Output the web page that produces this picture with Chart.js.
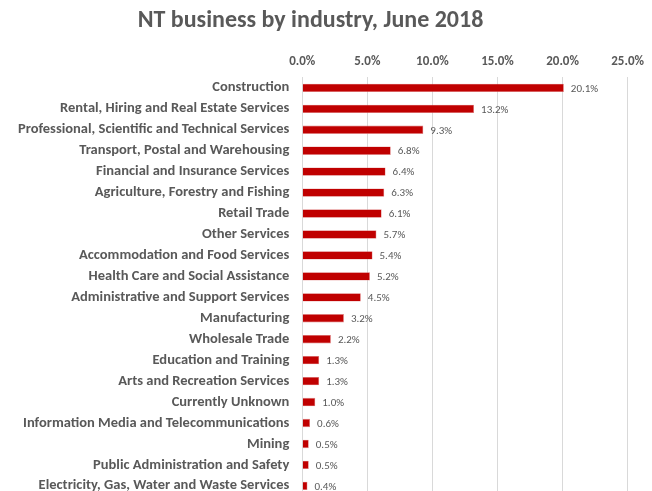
<!DOCTYPE html>
<html lang="en">
<head>
    <meta charset="UTF-8">
    <title>NT business by industry, June 2018</title>
    <script src="https://cdn.jsdelivr.net/npm/chart.js"></script>
    <style>
        body {
            margin: 0;
            padding: 0;
            background: #fff;
            overflow: hidden;
        }
        .chart-container {
            width: 652px;
            height: 510px;
            position: relative;
        }
    </style>
</head>
<body>
    <div class="chart-container">
        <canvas id="industryChart"></canvas>
    </div>

    <script>
        // Industries and share of businesses (%)
        const industries = [
            'Construction',
            'Rental, Hiring and Real Estate Services',
            'Professional, Scientific and Technical Services',
            'Transport, Postal and Warehousing',
            'Financial and Insurance Services',
            'Agriculture, Forestry and Fishing',
            'Retail Trade',
            'Other Services',
            'Accommodation and Food Services',
            'Health Care and Social Assistance',
            'Administrative and Support Services',
            'Manufacturing',
            'Wholesale Trade',
            'Education and Training',
            'Arts and Recreation Services',
            'Currently Unknown',
            'Information Media and Telecommunications',
            'Mining',
            'Public Administration and Safety',
            'Electricity, Gas, Water and Waste Services'
        ];
        const shares = [20.1, 13.2, 9.3, 6.8, 6.4, 6.3, 6.1, 5.7, 5.4, 5.2, 4.5, 3.2, 2.2, 1.3, 1.3, 1.0, 0.6, 0.5, 0.5, 0.4];

        const fontFamily = "Calibri, Carlito, Lato, 'Open Sans', sans-serif";
        const textColor = '#595959';

        // Value labels at bar ends
        const barLabels = {
            id: 'barLabels',
            afterDatasetsDraw(chart) {
                const ctx = chart.ctx;
                const meta = chart.getDatasetMeta(0);
                ctx.save();
                ctx.font = '11px ' + fontFamily;
                ctx.fillStyle = textColor;
                ctx.textAlign = 'left';
                ctx.textBaseline = 'middle';
                meta.data.forEach((bar, i) => {
                    ctx.fillText(shares[i].toFixed(1) + '%', bar.x + 7, bar.y + 1);
                });
                ctx.restore();
            }
        };

        // title sits a bit left of centre in the original
        const shiftTitle = {
            id: 'shiftTitle',
            afterLayout(chart) {
                if (chart.titleBlock) {
                    chart.titleBlock.left -= 34;
                }
            }
        };

        new Chart(document.getElementById('industryChart'), {
            type: 'bar',
            data: {
                labels: industries,
                datasets: [{
                    data: shares,
                    backgroundColor: '#C00000',
                    borderColor: '#E08080',
                    borderWidth: 0.6,
                    barPercentage: 0.4,
                    categoryPercentage: 1.0
                }]
            },
            options: {
                indexAxis: 'y',
                responsive: true,
                maintainAspectRatio: false,
                animation: false,
                layout: { padding: { left: 13, right: 10, top: 3, bottom: 0 } },
                plugins: {
                    legend: { display: false },
                    tooltip: { enabled: false },
                    title: {
                        display: true,
                        text: 'NT business by industry, June 2018',
                        color: textColor,
                        font: { family: fontFamily, size: 24, weight: 'bold' },
                        padding: { top: 4, bottom: 10 }
                    }
                },
                scales: {
                    x: {
                        position: 'top',
                        min: 0,
                        max: 25,
                        ticks: {
                            stepSize: 5,
                            color: textColor,
                            font: { family: fontFamily, size: 13, weight: 'bold' },
                            callback: v => v.toFixed(1) + '%',
                            padding: 8
                        },
                        grid: { color: '#d9d9d9', drawTicks: false },
                        border: { display: false }
                    },
                    y: {
                        ticks: {
                            color: textColor,
                            font: { family: fontFamily, size: 14.5, weight: 'bold' },
                            padding: 5,
                            autoSkip: false
                        },
                        grid: { display: false },
                        border: { display: false }
                    }
                }
            },
            plugins: [barLabels, shiftTitle]
        });
    </script>
</body>
</html>
